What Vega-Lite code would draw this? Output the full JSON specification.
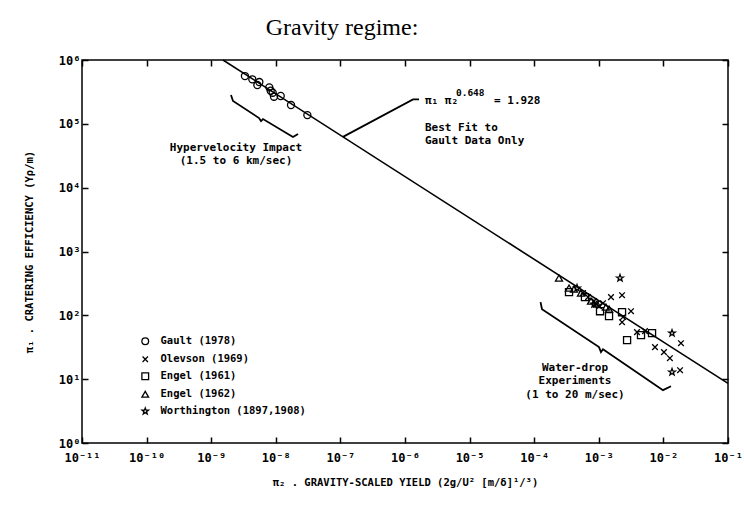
{
  "$schema": "https://vega.github.io/schema/vega-lite/v6.json",
  "width": 646,
  "height": 383,
  "autosize": {"type": "none"},
  "padding": {"left": 82, "top": 60, "right": 16, "bottom": 66},
  "background": "white",
  "title": {"text": "Gravity regime:", "font": "Liberation Serif", "fontSize": 24, "fontWeight": "normal", "color": "black", "anchor": "middle", "dx": -63, "offset": 14},
  "config": {
    "view": {"stroke": "black", "strokeWidth": 1.5},
    "axis": {"grid": false, "domain": false, "tickColor": "black", "tickWidth": 1.5, "tickSize": -6, "labelColor": "black", "labelFont": "DejaVu Sans Mono", "labelFontWeight": "bold", "labelFontSize": 12, "titleFont": "DejaVu Sans Mono", "titleFontWeight": "bold", "titleFontSize": 10.5, "titleColor": "black"}
  },
  "layer": [
    {
      "data": {"values": [{"x": 1.52e-9, "y": 1000000}, {"x": 0.1, "y": 8.57}]},
      "mark": {"type": "line", "color": "black", "strokeWidth": 1.6},
      "encoding": {
        "x": {"field": "x", "type": "quantitative", "scale": {"type": "log", "domain": [1e-11, 0.1], "nice": false},
          "axis": {"orient": "bottom", "values": [1e-11, 1e-10, 1e-9, 1e-8, 1e-7, 1e-6, 1e-5, 1e-4, 1e-3, 1e-2, 1e-1], "labelPadding": 15, "labelFlush": false, "labelOverlap": false,
            "labelExpr": "'10' + ['⁻¹¹','⁻¹⁰','⁻⁹','⁻⁸','⁻⁷','⁻⁶','⁻⁵','⁻⁴','⁻³','⁻²','⁻¹'][round(log(datum.value)/LN10)+11]",
            "title": "π₂ . GRAVITY-SCALED YIELD    (2g/U² [m/δ]¹/³)", "titlePadding": 14}},
        "y": {"field": "y", "type": "quantitative", "scale": {"type": "log", "domain": [1, 1000000], "nice": false},
          "axis": {"orient": "left", "values": [1, 10, 100, 1000, 10000, 100000, 1000000], "labelPadding": 8, "labelFlush": false, "labelOverlap": false,
            "labelExpr": "'10' + ['⁰','¹','²','³','⁴','⁵','⁶'][round(log(datum.value)/LN10)]",
            "title": "π₁ . CRATERING EFFICIENCY    (Yρ/m)", "titlePadding": 24}}
      }
    },
    {
      "data": {"values": [
        {"g": "hyper", "i": 1, "x": 2.025e-9, "y": 282700},
        {"g": "hyper", "i": 2, "x": 2.175e-9, "y": 227700},
        {"g": "hyper", "i": 3, "x": 5.5e-9, "y": 123300},
        {"g": "hyper", "i": 4, "x": 5.9e-9, "y": 110600},
        {"g": "hyper", "i": 5, "x": 6.34e-9, "y": 118900},
        {"g": "hyper", "i": 6, "x": 1.845e-8, "y": 62100},
        {"g": "hyper", "i": 7, "x": 2.21e-8, "y": 69200},
        {"g": "water", "i": 1, "x": 1.253e-4, "y": 161},
        {"g": "water", "i": 2, "x": 1.321e-4, "y": 125},
        {"g": "water", "i": 3, "x": 1.007e-3, "y": 31.8},
        {"g": "water", "i": 4, "x": 1.081e-3, "y": 26.5},
        {"g": "water", "i": 5, "x": 1.161e-3, "y": 29.5},
        {"g": "water", "i": 6, "x": 9.86e-3, "y": 6.73},
        {"g": "water", "i": 7, "x": 1.31e-2, "y": 7.76},
        {"g": "leader", "i": 1, "x": 1.096e-7, "y": 62400},
        {"g": "leader", "i": 2, "x": 1.33e-6, "y": 242000},
        {"g": "leader", "i": 3, "x": 1.648e-6, "y": 242000}
      ]},
      "mark": {"type": "line", "color": "black", "strokeWidth": 1.8},
      "encoding": {
        "x": {"field": "x", "type": "quantitative", "scale": {"type": "log", "domain": [1e-11, 0.1], "nice": false},
          "axis": {"orient": "top", "values": [1e-11, 1e-10, 1e-9, 1e-8, 1e-7, 1e-6, 1e-5, 1e-4, 1e-3, 1e-2, 1e-1], "labels": false, "title": null}},
        "y": {"field": "y", "type": "quantitative", "scale": {"type": "log", "domain": [1, 1000000], "nice": false},
          "axis": {"orient": "right", "values": [1, 10, 100, 1000, 10000, 100000, 1000000], "labels": false, "title": null}},
        "detail": {"field": "g"},
        "order": {"field": "i", "type": "quantitative"}
      }
    },
    {
      "data": {"values": [
        {"series": "Gault (1978)", "x": 3.33e-9, "y": 560000},
        {"series": "Gault (1978)", "x": 4.33e-9, "y": 498000},
        {"series": "Gault (1978)", "x": 5.56e-9, "y": 452000},
        {"series": "Gault (1978)", "x": 5.18e-9, "y": 405000},
        {"series": "Gault (1978)", "x": 7.93e-9, "y": 373000},
        {"series": "Gault (1978)", "x": 8.34e-9, "y": 330000},
        {"series": "Gault (1978)", "x": 8.95e-9, "y": 307000},
        {"series": "Gault (1978)", "x": 9.38e-9, "y": 266000},
        {"series": "Gault (1978)", "x": 1.19e-8, "y": 273000},
        {"series": "Gault (1978)", "x": 1.72e-8, "y": 197000},
        {"series": "Gault (1978)", "x": 3.08e-8, "y": 137000},
        {"series": "Olevson (1969)", "x": 5.69e-4, "y": 223},
        {"series": "Olevson (1969)", "x": 6.81e-4, "y": 193},
        {"series": "Olevson (1969)", "x": 8.44e-4, "y": 167},
        {"series": "Olevson (1969)", "x": 9.06e-4, "y": 150},
        {"series": "Olevson (1969)", "x": 1.007e-3, "y": 139},
        {"series": "Olevson (1969)", "x": 1.161e-3, "y": 155},
        {"series": "Olevson (1969)", "x": 1.545e-3, "y": 193},
        {"series": "Olevson (1969)", "x": 2.29e-3, "y": 207},
        {"series": "Olevson (1969)", "x": 3.15e-3, "y": 116},
        {"series": "Olevson (1969)", "x": 2.29e-3, "y": 78},
        {"series": "Olevson (1969)", "x": 2.37e-3, "y": 94},
        {"series": "Olevson (1969)", "x": 3.9e-3, "y": 54.6},
        {"series": "Olevson (1969)", "x": 5.19e-3, "y": 56.5},
        {"series": "Olevson (1969)", "x": 7.41e-3, "y": 31.8},
        {"series": "Olevson (1969)", "x": 1.02e-2, "y": 26.5},
        {"series": "Olevson (1969)", "x": 1.26e-2, "y": 21.3},
        {"series": "Olevson (1969)", "x": 1.87e-2, "y": 36.6},
        {"series": "Olevson (1969)", "x": 1.81e-2, "y": 13.8},
        {"series": "Engel (1961)", "x": 3.46e-4, "y": 231},
        {"series": "Engel (1961)", "x": 6.11e-4, "y": 193},
        {"series": "Engel (1961)", "x": 1.045e-3, "y": 116},
        {"series": "Engel (1961)", "x": 1.44e-3, "y": 97},
        {"series": "Engel (1961)", "x": 2.29e-3, "y": 112},
        {"series": "Engel (1961)", "x": 2.74e-3, "y": 40.8},
        {"series": "Engel (1961)", "x": 4.5e-3, "y": 49},
        {"series": "Engel (1961)", "x": 6.67e-3, "y": 52.6},
        {"series": "Engel (1962)", "x": 2.42e-4, "y": 383},
        {"series": "Engel (1962)", "x": 3.46e-4, "y": 267},
        {"series": "Engel (1962)", "x": 4.13e-4, "y": 258},
        {"series": "Engel (1962)", "x": 5.3e-4, "y": 223},
        {"series": "Engel (1962)", "x": 7.57e-4, "y": 167},
        {"series": "Engel (1962)", "x": 9.38e-4, "y": 150},
        {"series": "Engel (1962)", "x": 1.29e-3, "y": 135},
        {"series": "Engel (1962)", "x": 1.44e-3, "y": 125},
        {"series": "Worthington (1897,1908)", "x": 4.6e-4, "y": 267},
        {"series": "Worthington (1897,1908)", "x": 2.13e-3, "y": 383},
        {"series": "Worthington (1897,1908)", "x": 1.36e-2, "y": 52.6},
        {"series": "Worthington (1897,1908)", "x": 1.36e-2, "y": 12.9},
        {"series": "Worthington (1897,1908)", "x": 8.44e-4, "y": 150}
      ]},
      "mark": {"type": "point", "filled": false, "color": "black", "strokeWidth": 1.3, "opacity": 1, "size": 50},
      "encoding": {
        "x": {"field": "x", "type": "quantitative", "scale": {"type": "log", "domain": [1e-11, 0.1], "nice": false}, "axis": null},
        "y": {"field": "y", "type": "quantitative", "scale": {"type": "log", "domain": [1, 1000000], "nice": false}, "axis": null},
        "shape": {"field": "series", "type": "nominal",
          "scale": {"domain": ["Gault (1978)", "Olevson (1969)", "Engel (1961)", "Engel (1962)", "Worthington (1897,1908)"],
            "range": ["circle", "M-0.8,-0.8L0.8,0.8M-0.8,0.8L0.8,-0.8", "square", "triangle-up", "M0,-1L0.235,-0.324L0.951,-0.309L0.38,0.124L0.588,0.809L0,0.4L-0.588,0.809L-0.38,0.124L-0.951,-0.309L-0.235,-0.324Z"]},
          "legend": {"title": null, "orient": "none", "legendX": 58, "legendY": 276, "padding": 0, "labelFont": "DejaVu Sans Mono", "labelFontWeight": "bold", "labelFontSize": 10.5, "labelColor": "black", "symbolStrokeColor": "black", "symbolStrokeWidth": 1.3, "symbolFillColor": "transparent", "symbolSize": 45, "labelOffset": 10, "rowPadding": 5}}
      }
    },
    {
      "data": {"values": [
        {"x": 2.42e-9, "y": 41800, "t": "Hypervelocity Impact"},
        {"x": 2.42e-9, "y": 26100, "t": "(1.5 to 6 km/sec)"},
        {"x": 4.28e-4, "y": 14.9, "t": "Water-drop"},
        {"x": 4.28e-4, "y": 9.3, "t": "Experiments"},
        {"x": 4.28e-4, "y": 5.61, "t": "(1 to 20 m/sec)"}
      ]},
      "mark": {"type": "text", "align": "center", "baseline": "middle", "font": "DejaVu Sans Mono", "fontWeight": "bold", "fontSize": 11, "color": "black"},
      "encoding": {
        "x": {"field": "x", "type": "quantitative", "scale": {"type": "log", "domain": [1e-11, 0.1], "nice": false}, "axis": null},
        "y": {"field": "y", "type": "quantitative", "scale": {"type": "log", "domain": [1, 1000000], "nice": false}, "axis": null},
        "text": {"field": "t"}
      }
    },
    {
      "data": {"values": [
        {"x": 2.04e-6, "y": 228000, "t": "π₁ π₂"},
        {"x": 2.39e-5, "y": 228000, "t": "= 1.928"},
        {"x": 2.04e-6, "y": 85900, "t": "Best Fit to"},
        {"x": 2.04e-6, "y": 53700, "t": "Gault Data Only"}
      ]},
      "mark": {"type": "text", "align": "left", "baseline": "middle", "font": "DejaVu Sans Mono", "fontWeight": "bold", "fontSize": 11, "color": "black"},
      "encoding": {
        "x": {"field": "x", "type": "quantitative", "scale": {"type": "log", "domain": [1e-11, 0.1], "nice": false}, "axis": null},
        "y": {"field": "y", "type": "quantitative", "scale": {"type": "log", "domain": [1, 1000000], "nice": false}, "axis": null},
        "text": {"field": "t"}
      }
    },
    {
      "data": {"values": [{"x": 6.15e-6, "y": 304000, "t": "0.648"}]},
      "mark": {"type": "text", "align": "left", "baseline": "middle", "font": "DejaVu Sans Mono", "fontWeight": "bold", "fontSize": 9.5, "color": "black"},
      "encoding": {
        "x": {"field": "x", "type": "quantitative", "scale": {"type": "log", "domain": [1e-11, 0.1], "nice": false}, "axis": null},
        "y": {"field": "y", "type": "quantitative", "scale": {"type": "log", "domain": [1, 1000000], "nice": false}, "axis": null},
        "text": {"field": "t"}
      }
    }
  ]
}
